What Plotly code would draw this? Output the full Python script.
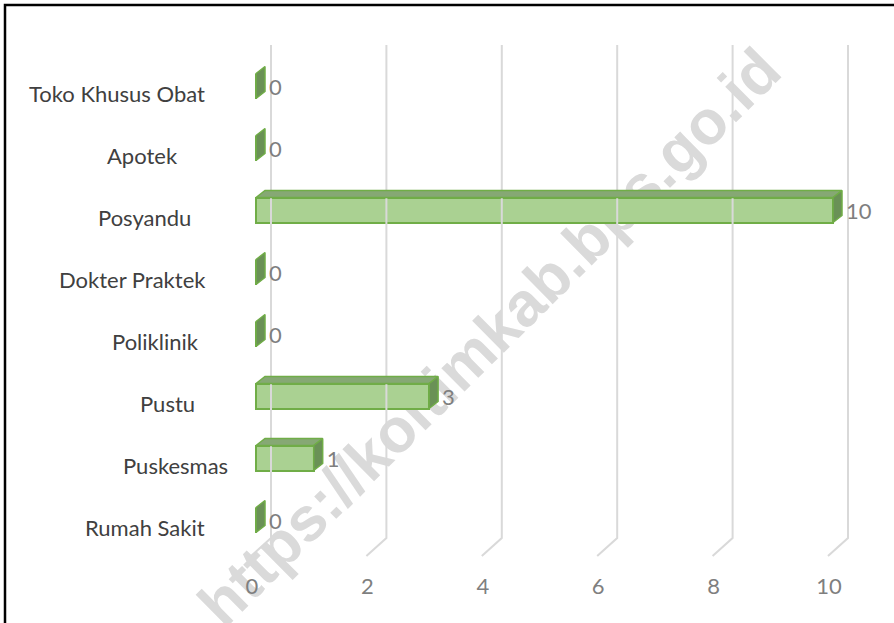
import plotly.graph_objects as go

# ---------------- data ----------------
categories = ["Rumah Sakit", "Puskesmas", "Pustu", "Poliklinik",
              "Dokter Praktek", "Posyandu", "Apotek", "Toko Khusus Obat"]
values = [0, 1, 3, 0, 0, 10, 0, 0]
x_ticks = [0, 2, 4, 6, 8, 10]
x_tick_labels = ["0", "2", "4", "6", "8", "10"]
watermark = "https://koltimkab.bps.go.id"

# ---------------- layout geometry (style) ----------------
W, H = 894, 623
PX_PER_UNIT = 57.7      # horizontal pixels per value unit
X0_PX = 256             # pixel of value 0 (front face)
ROW_PX = 62             # pixels per category row
ROW0_PX = 520           # pixel y of first category centre

def ux(px):   # pixel offset -> x units
    return px / PX_PER_UNIT

def uy(px):   # pixel offset -> y units (positive = up)
    return px / ROW_PX

x_range = [ux(0 - X0_PX), ux(W - X0_PX)]
y_range = [uy(ROW0_PX - H), uy(ROW0_PX)]

half_h = uy(12.5)   # half the bar front height
dep_x = ux(9)       # 3-D depth offset
dep_y = uy(7)

label_right_px = [207, 230, 197, 201, 208, 193, 180, 207]

FONT = "Lato, 'Open Sans', sans-serif"
GRID_COLOR = "#d9d9d9"
EDGE = "#70ad47"
FRONT = "#aad192"
TOP = "#86a874"
SIDE = "#6a9156"

fig = go.Figure()

# ---------------- gridlines (back wall + floor slant) ----------------
gx, gy = [], []
for v in x_ticks:
    gx += [v + ux(15), v + ux(15), v + ux(-5), None]
    gy += [uy(ROW0_PX - 45), uy(ROW0_PX - 538), uy(ROW0_PX - 556), None]
fig.add_trace(go.Scatter(x=gx, y=gy, mode="lines",
                         line=dict(color=GRID_COLOR, width=2),
                         hoverinfo="skip", showlegend=False))

rows = list(range(len(categories)))

# ---------------- front faces ----------------
fig.add_trace(go.Bar(x=values, y=rows, orientation="h", width=2 * half_h,
                     marker=dict(color=FRONT, line=dict(color=EDGE, width=2)),
                     hoverinfo="skip", showlegend=False))

# ---------------- top and side faces ----------------
tx, ty = [], []
sx, sy = [], []
for i, v in zip(rows, values):
    if v > 0:
        tx += [0, v, v + dep_x, dep_x, 0, None]
        ty += [i + half_h, i + half_h, i + half_h + dep_y, i + half_h + dep_y, i + half_h, None]
    sx += [v, v + dep_x, v + dep_x, v, v, None]
    sy += [i - half_h, i - half_h + dep_y, i + half_h + dep_y, i + half_h, i - half_h, None]

fig.add_trace(go.Scatter(x=tx, y=ty, mode="lines", fill="toself", fillcolor=TOP,
                         line=dict(color=EDGE, width=1.5),
                         hoverinfo="skip", showlegend=False))
fig.add_trace(go.Scatter(x=sx, y=sy, mode="lines", fill="toself", fillcolor=SIDE,
                         line=dict(color=EDGE, width=1.5),
                         hoverinfo="skip", showlegend=False))

# ---------------- value labels ----------------
fig.add_trace(go.Scatter(x=[v + dep_x + ux(4) for v in values],
                         y=[i - uy(3) for i in rows],
                         mode="text", text=[str(v) for v in values],
                         textposition="middle right",
                         textfont=dict(family=FONT, size=22, color="#7f7f7f"),
                         hoverinfo="skip", showlegend=False, cliponaxis=False))

# ---------------- x tick labels ----------------
fig.add_trace(go.Scatter(x=[v - ux(4) for v in x_ticks],
                         y=[uy(ROW0_PX - 588)] * len(x_ticks),
                         mode="text", text=x_tick_labels,
                         textposition="middle center",
                         textfont=dict(family=FONT, size=22, color="#7f7f7f"),
                         hoverinfo="skip", showlegend=False, cliponaxis=False))

# ---------------- category labels ----------------
for i, (c, rp) in enumerate(zip(categories, label_right_px)):
    fig.add_annotation(x=ux(rp - X0_PX), y=i - uy(7), xref="x", yref="y",
                       text=c, showarrow=False, xanchor="right", yanchor="middle",
                       font=dict(family=FONT, size=22, color="#404040"))

# ---------------- watermark & frame ----------------
fig.add_shape(type="line", xref="paper", yref="paper",
              x0=185 / W, y0=1 - 630 / H, x1=785 / W, y1=1 - 35 / H,
              line=dict(color="rgba(0,0,0,0)", width=0), layer="below",
              label=dict(text=watermark, textposition="middle", yanchor="middle",
                         font=dict(family="Liberation Sans, Arial, sans-serif",
                                   size=62, color="#dadada", weight="bold")))
fig.add_shape(type="rect", xref="paper", yref="paper",
              x0=5 / W, y0=-0.05, x1=1.05, y1=1 - 5 / H,
              line=dict(color="black", width=2.5), layer="above")

fig.update_layout(
    width=W, height=H,
    margin=dict(l=0, r=0, t=0, b=0),
    paper_bgcolor="white", plot_bgcolor="rgba(0,0,0,0)",
    xaxis=dict(range=x_range, visible=False, fixedrange=True),
    yaxis=dict(range=y_range, visible=False, fixedrange=True),
    bargap=0,
)

fig.write_html("out.html",
               config={"displayModeBar": False},
               post_script="document.body.style.margin='0';"
                           "document.body.style.overflow='hidden';")
